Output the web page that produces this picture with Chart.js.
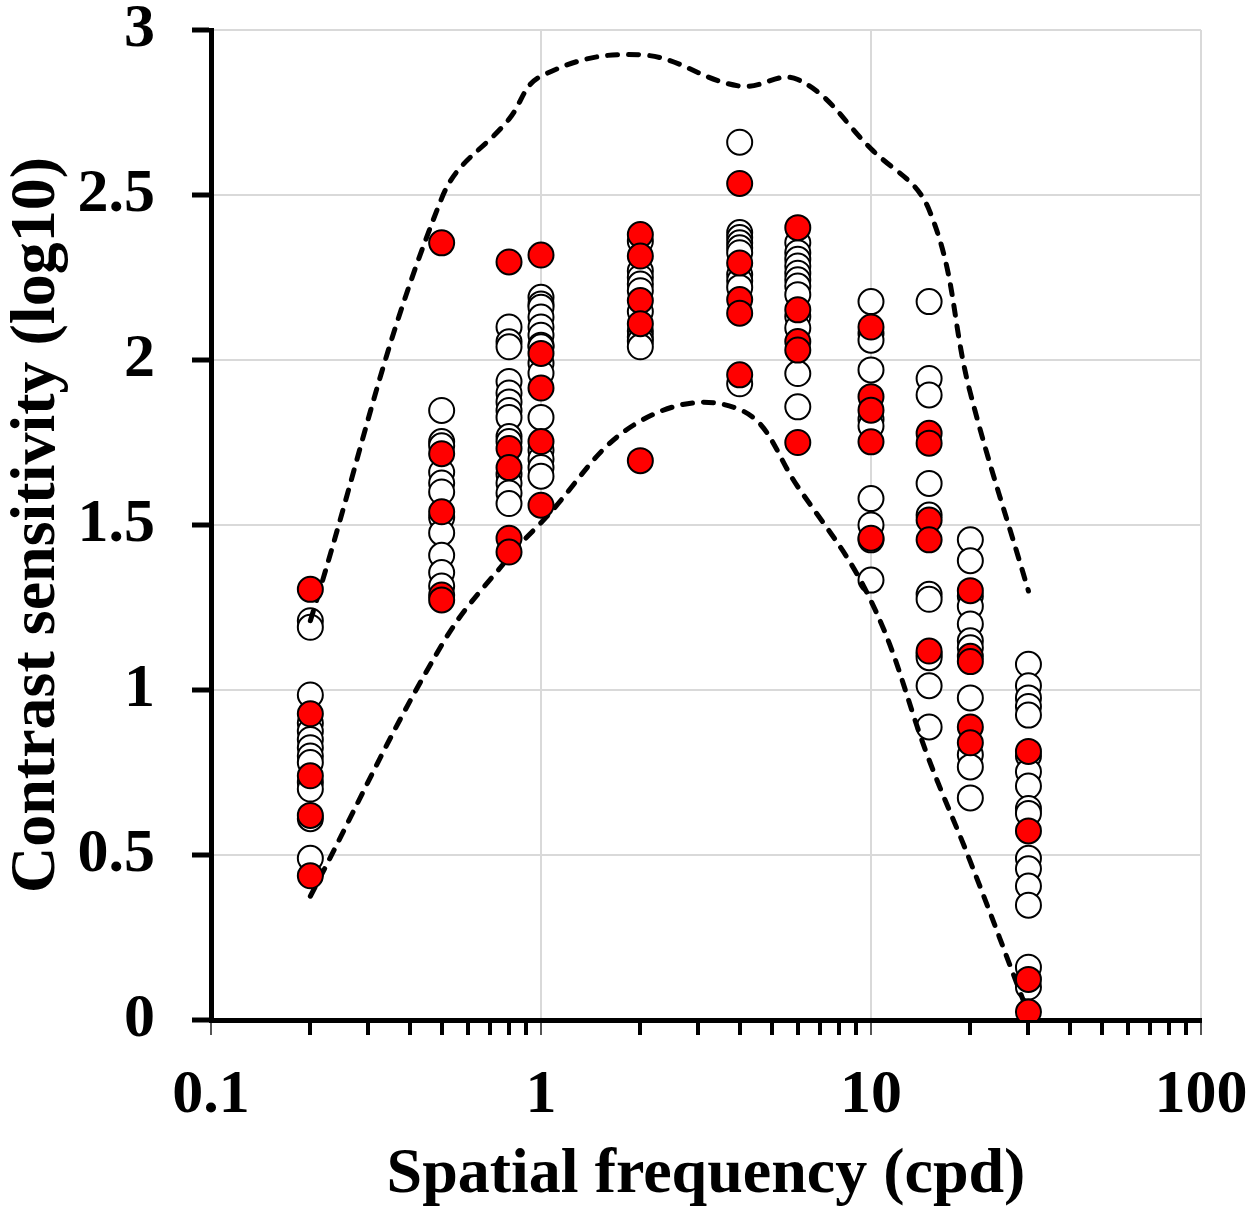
<!DOCTYPE html>
<html lang="en">
<head>
<meta charset="UTF-8">
<title>Contrast sensitivity</title>
<script src="https://cdn.jsdelivr.net/npm/chart.js@4.4.1/dist/chart.umd.min.js"></script>
<style>
    html, body { margin: 0; padding: 0; background: #fff; }
    #chart-wrap { width: 1251px; height: 1211px; }
</style>
</head>
<body>
<div id="chart-wrap"><canvas id="chart-1" width="1251" height="1211"></canvas></div>
<script>
// Tần số không gian (cpd)
const frequencies = [0.2, 0.5, 0.8, 1, 2, 4, 6, 10, 15, 20, 30];

// Điểm trắng, mỗi tần số một mảng
const openValues = [
    [1.21, 1.19, 0.985, 0.90, 0.875, 0.85, 0.825, 0.80, 0.78, 0.72, 0.70, 0.61, 0.49],
    [1.847, 1.753, 1.74, 1.66, 1.627, 1.60, 1.523, 1.476, 1.408, 1.356, 1.315],
    [2.10, 2.055, 2.04, 1.935, 1.90, 1.873, 1.847, 1.826, 1.768, 1.753, 1.654, 1.627, 1.597, 1.565],
    [2.19, 2.17, 2.16, 2.13, 2.10, 2.075, 2.045, 2.04, 1.99, 1.96, 1.826, 1.727, 1.70, 1.674, 1.648],
    [2.36, 2.27, 2.25, 2.23, 2.21, 2.147, 2.088, 2.07, 2.057, 2.04],
    [2.66, 2.386, 2.371, 2.355, 2.34, 2.325, 2.259, 2.24, 2.22, 1.928],
    [2.355, 2.325, 2.305, 2.285, 2.263, 2.243, 2.224, 2.198, 2.132, 2.097, 1.959, 1.858],
    [2.177, 2.08, 2.06, 1.97, 1.82, 1.80, 1.58, 1.50, 1.455, 1.333],
    [2.177, 1.944, 1.894, 1.626, 1.53, 1.29, 1.275, 1.108, 1.098, 1.013, 0.888],
    [1.455, 1.392, 1.285, 1.254, 1.20, 1.149, 1.128, 0.976, 0.804, 0.767, 0.673],
    [1.078, 1.013, 0.976, 0.95, 0.924, 0.80, 0.752, 0.709, 0.641, 0.626, 0.49, 0.458, 0.406, 0.348, 0.16, 0.10]
];

// Điểm đỏ
const redValues = [
    [1.305, 0.928, 0.74, 0.62, 0.437],
    [2.355, 1.716, 1.54, 1.288, 1.273],
    [2.297, 1.732, 1.674, 1.46, 1.418],
    [2.318, 2.02, 1.915, 1.753, 1.56],
    [2.38, 2.315, 2.18, 2.11, 1.695],
    [2.535, 2.294, 2.183, 2.142, 1.955],
    [2.401, 2.152, 2.056, 2.03, 1.75],
    [2.10, 1.889, 1.848, 1.752, 1.46],
    [1.778, 1.748, 1.515, 1.455, 1.118],
    [1.301, 1.102, 1.086, 0.888, 0.84],
    [0.814, 0.573, 0.123, 0.024]
];

// Đường giới hạn trên / dưới (nét đứt)
const upperBound = [1.21, 2.49, 2.73, 2.86, 2.925, 2.83, 2.85, 2.64, 2.455, 1.90, 1.30];
const lowerBound = [0.375, 1.136, 1.403, 1.507, 1.815, 1.85, 1.616, 1.27, 0.788, 0.48, 0.018];

// Vạch trục x (log)
const xTickValues = [0.1, 0.2, 0.3, 0.4, 0.5, 0.6, 0.7, 0.8, 0.9,
    1, 2, 3, 4, 5, 6, 7, 8, 9,
    10, 20, 30, 40, 50, 60, 70, 80, 90, 100];

function isDecade(v) {
    const l = Math.log10(v);
    return Math.abs(l - Math.round(l)) < 1e-9;
}

function toPoints(groups) {
    const pts = [];
    groups.forEach((vals, i) => {
        vals.forEach(v => pts.push({x: frequencies[i], y: v}));
    });
    return pts;
}

function createSensitivityChart() {
    const ctx = document.getElementById('chart-1').getContext('2d');

    Chart.defaults.font.family = "'Liberation Serif', 'Times New Roman', serif";
    Chart.defaults.color = '#000';

    const lineStyle = {
        showLine: true,
        borderColor: '#000',
        borderWidth: 5,
        borderDash: [10, 11],
        borderCapStyle: 'round',
        tension: 0.4,
        pointRadius: 0,
        fill: false
    };

    new Chart(ctx, {
        type: 'scatter',
        data: {
            datasets: [
                {
                    label: 'red',
                    data: toPoints(redValues),
                    backgroundColor: '#ff0000',
                    borderColor: '#000',
                    borderWidth: 2,
                    pointRadius: 12.5
                },
                Object.assign({label: 'upper', data: frequencies.map((f, i) => ({x: f, y: upperBound[i]}))}, lineStyle),
                Object.assign({label: 'lower', data: frequencies.map((f, i) => ({x: f, y: lowerBound[i]}))}, lineStyle),
                {
                    label: 'open',
                    data: toPoints(openValues),
                    backgroundColor: '#fff',
                    borderColor: '#000',
                    borderWidth: 2,
                    pointRadius: 12.5
                }
            ]
        },
        options: {
            responsive: false,
            animation: false,
            layout: {padding: {left: 0, right: 50, top: 30, bottom: 0}},
            plugins: {
                legend: {display: false},
                tooltip: {enabled: false}
            },
            scales: {
                x: {
                    type: 'logarithmic',
                    min: 0.1,
                    max: 100,
                    afterBuildTicks: function (scale) {
                        scale.ticks = xTickValues.map(v => ({value: v}));
                    },
                    afterFit: function (scale) {
                        scale.height = 191;
                        scale.paddingLeft = 0;
                        scale.paddingRight = 0;
                    },
                    ticks: {
                        autoSkip: false,
                        maxRotation: 0,
                        padding: 24,
                        font: {size: 62, weight: 'bold'},
                        callback: function (value) {
                            return isDecade(value) ? String(value) : '';
                        }
                    },
                    grid: {
                        color: c => (c.tick && isDecade(c.tick.value)) ? '#d9d9d9' : 'rgba(0,0,0,0)',
                        lineWidth: 2,
                        tickColor: c => (c.tick && isDecade(c.tick.value)) ? '#555' : '#000',
                        tickWidth: c => (c.tick && isDecade(c.tick.value)) ? 2 : 4,
                        tickLength: 15
                    },
                    border: {color: '#000', width: 5},
                    title: {
                        display: true,
                        text: 'Spatial frequency (cpd)',
                        font: {size: 64, weight: 'bold'},
                        padding: {top: 0, bottom: -3}
                    }
                },
                y: {
                    min: 0,
                    max: 3,
                    afterFit: function (scale) {
                        scale.width = 211;
                        scale.paddingTop = 0;
                        scale.paddingBottom = 0;
                    },
                    ticks: {
                        stepSize: 0.5,
                        autoSkip: false,
                        padding: 37,
                        font: {size: 62, weight: 'bold'},
                        callback: function (value) {
                            return String(value);
                        }
                    },
                    grid: {
                        color: '#d9d9d9',
                        lineWidth: 2,
                        tickColor: '#000',
                        tickWidth: 5,
                        tickLength: 19
                    },
                    border: {color: '#000', width: 5},
                    title: {
                        display: true,
                        text: 'Contrast sensitivity (log10)',
                        font: {size: 64, weight: 'bold'},
                        padding: {top: -1, bottom: 0}
                    }
                }
            }
        }
    });
}

document.addEventListener('DOMContentLoaded', function () {
    createSensitivityChart();
});
</script>
</body>
</html>
